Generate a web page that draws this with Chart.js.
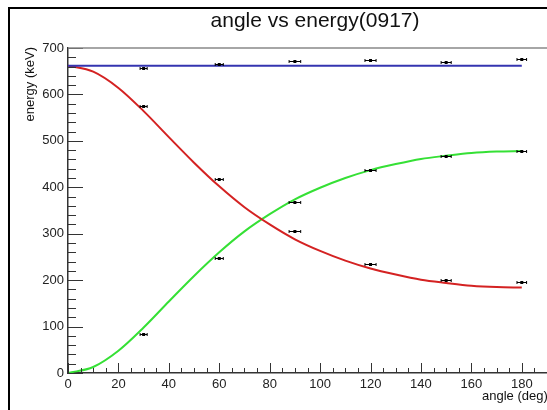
<!DOCTYPE html>
<html>
<head>
<meta charset="utf-8">
<script src="https://cdn.jsdelivr.net/npm/chart.js@4/dist/chart.umd.min.js"></script>
<style>
  html, body { margin: 0; padding: 0; background: #fff; }
  #wrap { position: relative; width: 547px; height: 410px; }
  #frame { position: absolute; left: 8px; top: 7px; right: 0; bottom: 0;
           border-left: 2.5px solid #000; border-top: 2.5px solid #000; pointer-events: none; }
</style>
</head>
<body>
<div id="wrap">
  <canvas id="energyChart"></canvas>
  <div id="frame"></div>
</div>
<script>
// measured points (angle in deg, energy in keV)
const angles = [30, 60, 90, 120, 150, 180];
const angleErr = [1.4, 1.6, 2.3, 2.2, 2.0, 1.9];
const totalPts = [657, 665, 672, 674, 669, 676];
const scatteredPts = [575, 417, 305, 235, 201, 197];
const electronPts = [84, 248, 368, 438, 467, 478];

// fitted curves, every 10 deg
const curveAngles = [0, 10, 20, 30, 40, 50, 60, 70, 80, 90, 100, 110, 120, 130, 140, 150, 160, 170, 180];
const scatteredCurve = [662, 649, 614, 564, 508, 453, 402, 357, 320, 288, 263, 242, 225, 212, 201, 194, 188, 185, 184];
const electronCurve = [0, 13, 48, 98, 154, 209, 260, 305, 342, 374, 399, 420, 437, 450, 461, 468, 474, 477, 478];
const totalAngles = [0, 180];
const totalCurve = [662, 662];

const pairs = (xs, ys) => xs.map((x, i) => ({ x: x, y: ys[i] }));
const FONT = "'Liberation Sans', Arial, sans-serif";

// ROOT style: ticks pointing inward, title, frame top, error bars
const rootStyle = {
    id: "rootStyle",
    afterDraw(chart) {
        const { ctx, chartArea: area, scales: { x, y } } = chart;
        ctx.save();
        ctx.strokeStyle = "#333";
        ctx.lineWidth = 1;
        // y ticks
        for (let v = 0; v <= 700; v += 20) {
            const py = Math.round(y.getPixelForValue(v)) + 0.5;
            const len = v % 100 === 0 ? 15 : 8;
            ctx.beginPath();
            ctx.moveTo(area.left, py);
            ctx.lineTo(area.left + len, py);
            ctx.stroke();
        }
        // x ticks
        for (let v = 0; v <= 190; v += 5) {
            const px = Math.round(x.getPixelForValue(v)) + 0.5;
            const len = v % 20 === 0 ? 10 : 5;
            ctx.beginPath();
            ctx.moveTo(px, area.bottom);
            ctx.lineTo(px, area.bottom - len);
            ctx.stroke();
        }
        // top of frame
        ctx.strokeStyle = "#888";
        ctx.lineWidth = 1.5;
        ctx.beginPath();
        ctx.moveTo(area.left, area.top);
        ctx.lineTo(area.right, area.top);
        ctx.stroke();

        // error bars on measured points
        ctx.strokeStyle = "#000";
        ctx.fillStyle = "#000";
        ctx.lineWidth = 1;
        chart.data.datasets.forEach(ds => {
            if (!ds.xErr) return;
            ds.data.forEach((p, i) => {
                const x0 = x.getPixelForValue(p.x - ds.xErr[i]);
                const x1 = x.getPixelForValue(p.x + ds.xErr[i]);
                const py = Math.round(y.getPixelForValue(p.y)) + 0.5;
                const pc = x.getPixelForValue(p.x);
                ctx.beginPath();
                ctx.moveTo(x0, py);
                ctx.lineTo(x1, py);
                ctx.moveTo(x0, py - 1.5);
                ctx.lineTo(x0, py + 1.5);
                ctx.moveTo(x1, py - 1.5);
                ctx.lineTo(x1, py + 1.5);
                ctx.stroke();
                ctx.fillRect(pc - 1.5, py - 1.5, 3, 3);
            });
        });

        // texts
        ctx.fillStyle = "#111";
        ctx.font = "21px " + FONT;
        ctx.textAlign = "center";
        ctx.textBaseline = "middle";
        ctx.fillText("angle vs energy(0917)", 315, 21);

        ctx.font = "13px " + FONT;
        ctx.textAlign = "left";
        ctx.fillText("angle (deg)", 482, 396);

        ctx.translate(30, 47);
        ctx.rotate(-Math.PI / 2);
        ctx.textAlign = "right";
        ctx.fillText("energy (keV)", 0, 0);
        ctx.restore();
    }
};

const ctx = document.getElementById("energyChart").getContext("2d");

new Chart(ctx, {
    type: "scatter",
    data: {
        datasets: [
            {
                label: "total",
                data: pairs(totalAngles, totalCurve),
                showLine: true,
                borderColor: "#3434b0",
                borderWidth: 2,
                pointRadius: 0
            },
            {
                label: "scattered",
                data: pairs(curveAngles, scatteredCurve),
                showLine: true,
                borderColor: "#d42222",
                borderWidth: 2,
                pointRadius: 0,
                cubicInterpolationMode: "monotone"
            },
            {
                label: "electron",
                data: pairs(curveAngles, electronCurve),
                showLine: true,
                borderColor: "#35e035",
                borderWidth: 2,
                pointRadius: 0,
                cubicInterpolationMode: "monotone"
            },
            { label: "total pts", data: pairs(angles, totalPts), xErr: angleErr, pointRadius: 0 },
            { label: "scattered pts", data: pairs(angles, scatteredPts), xErr: angleErr, pointRadius: 0 },
            { label: "electron pts", data: pairs(angles, electronPts), xErr: angleErr, pointRadius: 0 }
        ]
    },
    options: {
        responsive: true,
        maintainAspectRatio: false,
        animation: false,
        layout: { padding: { top: 48, right: 0, bottom: 0, left: 0 } },
        plugins: {
            legend: { display: false },
            tooltip: { enabled: false }
        },
        scales: {
            x: {
                type: "linear",
                min: 0,
                max: 190,
                grid: { display: false, drawTicks: false },
                border: { color: "#333", width: 1.5 },
                ticks: {
                    stepSize: 20,
                    includeBounds: false,
                    autoSkip: false,
                    maxRotation: 0,
                    padding: 4,
                    color: "#222",
                    font: { family: FONT, size: 13 }
                },
                afterFit: s => { s.height = 37; }
            },
            y: {
                min: 0,
                max: 700,
                grid: { display: false, drawTicks: false },
                border: { color: "#333", width: 1.5 },
                ticks: {
                    stepSize: 100,
                    padding: 4,
                    color: "#222",
                    font: { family: FONT, size: 13 }
                },
                afterFit: s => { s.width = 68; }
            }
        }
    },
    plugins: [rootStyle]
});
</script>
</body>
</html>
